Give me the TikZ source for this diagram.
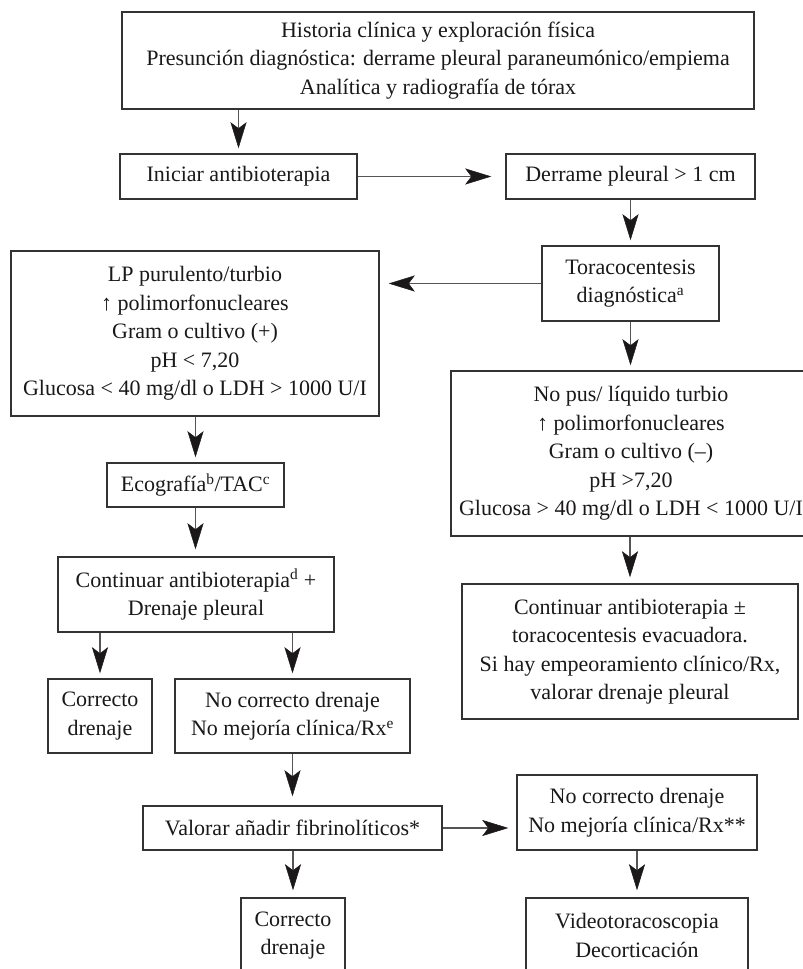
\documentclass[tikz,border=0pt]{standalone}
\usepackage{fontspec}
\setmainfont{Liberation Serif}
\usetikzlibrary{arrows.meta}
\definecolor{ink}{HTML}{1A1819}
\definecolor{edge}{HTML}{333333}
\definecolor{shaft}{HTML}{555555}
\tikzset{
  box/.style={draw=edge, line width=1.5pt, rectangle, inner sep=0pt, align=center,
    text=ink, font=\fontsize{22}{28.5}\selectfont},
  arr/.style={draw=shaft, line width=1.3pt,
    -{Stealth[length=26pt,width=16pt,inset=6pt,color=ink,fill=ink,line width=0.5pt]}, shorten >=5pt}
}
\begin{document}
\begin{tikzpicture}[x=1pt,y=1pt]
\clip (0,0) rectangle (803,-969);
\fill[white] (0,0) rectangle (803,-969);
\node[box, minimum width=632, minimum height=97] (top) at (438,-60.5)
  {Historia clínica y exploración física\\Presunción diagnóstica: derrame pleural paraneumónico/empiema\\Analítica y radiografía de tórax};
\node[box, minimum width=237, minimum height=45] (ini) at (238.5,-176.5) {Iniciar antibioterapia};
\node[box, minimum width=249, minimum height=45] (der) at (630.5,-176.5) {Derrame pleural > 1 cm};
\node[box, minimum width=177, minimum height=75] (tor) at (630.5,-283.5) {Toracocentesis\\diagnóstica\textsuperscript{a}};
\node[box, minimum width=368, minimum height=165] (lp) at (195,-333.5)
  {LP purulento/turbio\\↑ polimorfonucleares\\Gram o cultivo (+)\\pH < 7,20\\Glucosa < 40 mg/dl o LDH > 1000 U/I};
\node[box, minimum width=360, minimum height=165] (nopus) at (631,-453.5)
  {No pus/ líquido turbio\\↑ polimorfonucleares\\Gram o cultivo (–)\\pH >7,20\\Glucosa > 40 mg/dl o LDH < 1000 U/I};
\node[box, minimum width=177, minimum height=44] (ecog) at (195.5,-485) {Ecografía\textsuperscript{b}/TAC\textsuperscript{c}};
\node[box, minimum width=276, minimum height=75] (contL) at (196,-594.5) {Continuar antibioterapia\textsuperscript{d} +\\Drenaje pleural};
\node[box, minimum width=104, minimum height=74] (corrA) at (100,-716) {Correcto\\drenaje};
\node[box, minimum width=235, minimum height=74] (nocorrA) at (292.5,-716) {No correcto drenaje\\No mejoría clínica/Rx\textsuperscript{e}};
\node[box, minimum width=336, minimum height=135] (contR) at (630,-651.5)
  {Continuar antibioterapia ±\\toracocentesis evacuadora.\\Si hay empeoramiento clínico/Rx,\\valorar drenaje pleural};
\node[box, minimum width=299, minimum height=44] (val) at (292.5,-828) {Valorar añadir fibrinolíticos*};
\node[box, minimum width=240, minimum height=75] (nocorrB) at (637,-812.5) {No correcto drenaje\\No mejoría clínica/Rx**};
\node[box, minimum width=104, minimum height=75] (corrB) at (293,-935.5) {Correcto\\drenaje};
\node[box, minimum width=222, minimum height=75] (video) at (637,-935.5) {Videotoracoscopia\\Decorticación};

\draw[arr] (top.south -| ini.north) -- (ini.north);
\draw[arr, shorten >=14pt] (ini.east) -- (der.west);
\draw[arr] (der.south) -- (tor.north);
\draw[arr, shorten >=9pt] (tor.west) -- (tor.west -| lp.east);
\draw[arr] (tor.south) -- (tor.south |- nopus.north);
\draw[arr] (lp.south -| ecog.north) -- (ecog.north);
\draw[arr, shorten >=7pt] (ecog.south) -- (ecog.south |- contL.north);
\draw[arr] (contL.south -| corrA.north) -- (corrA.north);
\draw[arr] (contL.south -| nocorrA.north) -- (nocorrA.north);
\draw[arr, shorten >=6pt] (nopus.south -| contR.north) -- (contR.north);
\draw[arr, shorten >=9pt] (nocorrA.south) -- (nocorrA.south |- val.north);
\draw[arr, shorten >=8pt] (val.east) -- (val.east -| nocorrB.west);
\draw[arr, shorten >=7pt] (val.south -| corrB.north) -- (corrB.north);
\draw[arr, shorten >=7pt] (nocorrB.south) -- (video.north);
\end{tikzpicture}
\end{document}
